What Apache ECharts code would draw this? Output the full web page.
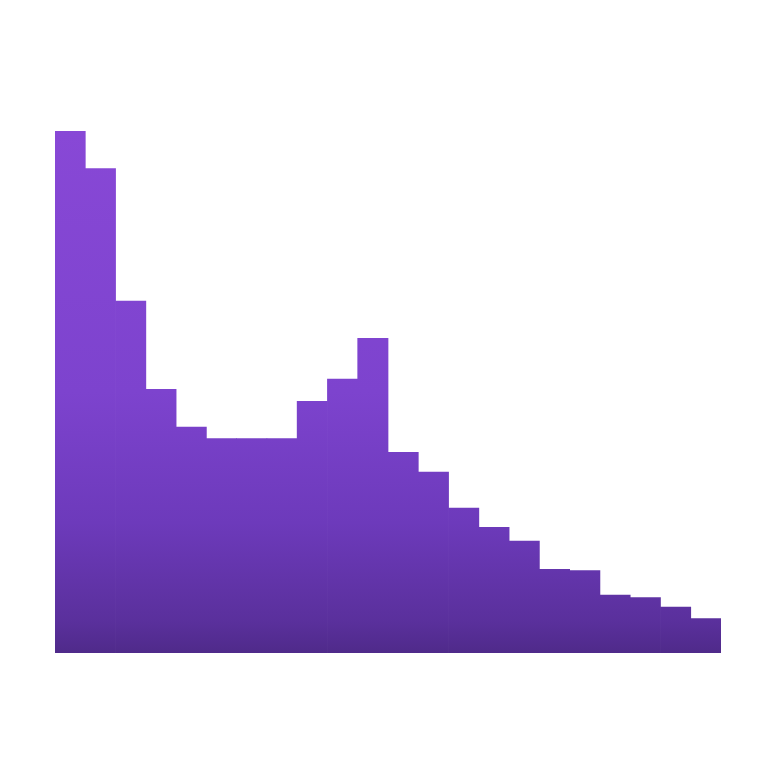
<!DOCTYPE html>
<html>
<head>
<meta charset="utf-8">
<script src="https://cdn.jsdelivr.net/npm/echarts@6/dist/echarts.min.js"></script>
<style>html,body{margin:0;padding:0;background:#fff;}#c{width:768px;height:768px;}</style>
</head>
<body>
<div id="c"></div>
<script>
const categories = ['1','2','3','4','5','6','7','8','9','10','11','12','13','14','15','16','17','18','19','20','21','22'];
const values = [87.0, 80.8, 58.7, 44.0, 37.7, 35.8, 35.8, 35.8, 42.0, 45.7, 52.5, 33.5, 30.2, 24.2, 21.0, 18.7, 14.0, 13.8, 9.7, 9.3, 7.7, 5.8];

const chart = echarts.init(document.getElementById('c'), null, {renderer: 'canvas'});
chart.setOption({
  animation: false,
  backgroundColor: '#ffffff',
  grid: {left: 55, right: 47, top: 53, bottom: 115, containLabel: false},
  xAxis: {
    type: 'category', data: categories, show: false,
    axisLine: {show: false}, axisTick: {show: false}, axisLabel: {show: false}
  },
  yAxis: {
    type: 'value', min: 0, max: 100, show: false,
    splitLine: {show: false}
  },
  series: [{
    type: 'bar',
    data: values,
    barWidth: 31,
    itemStyle: {
      color: {
        type: 'linear', x: 0, y: 131, x2: 0, y2: 653, global: true,
        colorStops: [
          {offset: 0, color: '#8848d6'},
          {offset: 0.5, color: '#7d43ce'},
          {offset: 0.75, color: '#6d3abb'},
          {offset: 0.94, color: '#5a309c'},
          {offset: 1, color: '#4f2a8a'}
        ]
      },
      borderWidth: 0
    }
  }]
});
</script>
</body>
</html>
